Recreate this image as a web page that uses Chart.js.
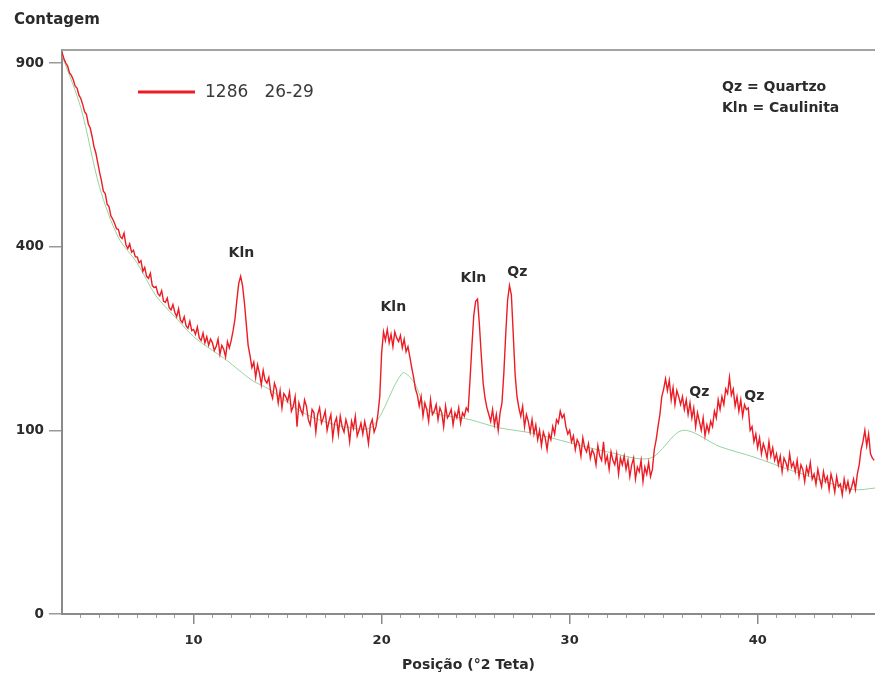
<!DOCTYPE html>
<html>
<head>
<meta charset="utf-8">
<script src="https://cdn.jsdelivr.net/npm/chart.js"></script>
<style>
  html, body { margin: 0; padding: 0; background: #fff; }
  #wrap { width: 875px; height: 682px; }
</style>
</head>
<body>
<div id="wrap"><canvas id="xrd" width="875" height="682"></canvas></div>
<script>
// diffractogram sampled every 0.1 °2θ, starting at 3.0
const startAngle = 3.0;
const stepAngle = 0.1;
const counts1286 = [
    935, 915, 900, 890, 868, 860, 846, 826, 820, 798,
    788, 770, 748, 740, 712, 700, 676, 648, 630, 604,
    578, 556, 530, 524, 498, 492, 470, 462, 452, 440,
    438, 422, 418, 430, 404, 396, 406, 388, 392, 378,
    378, 366, 370, 348, 356, 338, 334, 344, 320, 316,
    318, 304, 300, 310, 290, 288, 296, 278, 274, 284,
    270, 262, 276, 256, 252, 262, 246, 242, 254, 238,
    240, 232, 244, 226, 222, 234, 218, 228, 214, 224,
    218, 206, 212, 224, 200, 214, 208, 196, 220, 210,
    222, 238, 258, 292, 324, 338, 320, 288, 250, 214,
    198, 180, 188, 166, 184, 172, 156, 176, 162, 158,
    166, 146, 138, 158, 150, 132, 148, 126, 144, 140,
    134, 146, 122, 128, 140, 104, 132, 124, 118, 136,
    128, 112, 106, 124, 120, 98, 118, 126, 108, 114,
    122, 100, 110, 118, 92, 108, 114, 96, 116, 104,
    98, 112, 104, 88, 110, 102, 116, 94, 100, 108,
    96, 110, 100, 86, 106, 112, 98, 104, 118, 140,
    202, 236, 222, 240, 218, 232, 212, 236, 226, 220,
    230, 210, 224, 204, 212, 196, 180, 166, 150, 142,
    128, 140, 116, 132, 124, 110, 136, 118, 122, 130,
    112, 126, 120, 104, 128, 114, 118, 124, 106, 120,
    114, 126, 108, 120, 116, 126, 122, 162, 212, 264,
    290, 294, 248, 198, 158, 138, 126, 118, 110, 124,
    106, 118, 100, 120, 132, 172, 232, 292, 320, 302,
    232, 170, 140, 126, 116, 128, 104, 118, 110, 98,
    112, 96, 106, 90, 100, 84, 98, 92, 80, 96,
    90, 104, 96, 112, 108, 122, 114, 118, 104, 96,
    100, 88, 94, 80, 90, 86, 74, 92, 82, 78,
    86, 72, 80, 76, 66, 84, 74, 70, 88, 68,
    74, 62, 78, 70, 66, 76, 58, 72, 66, 74,
    62, 70, 56, 66, 72, 54, 64, 60, 70, 52,
    64, 58, 68, 56, 62, 80, 90, 104, 118, 140,
    150, 164, 148, 162, 136, 152, 130, 148, 140, 130,
    140, 124, 136, 118, 132, 114, 126, 104, 120, 110,
    100, 114, 94, 106, 98, 110, 104, 122, 114, 136,
    124, 140, 130, 150, 144, 166, 142, 150, 128, 140,
    122, 136, 116, 130, 124, 126, 100, 104, 88, 96,
    82, 92, 76, 86, 80, 72, 88, 74, 82, 70,
    76, 66, 74, 60, 72, 68, 62, 76, 64, 68,
    60, 70, 56, 66, 62, 52, 64, 58, 68, 54,
    58, 50, 62, 54, 48, 60, 52, 56, 46, 58,
    52, 44, 56, 48, 50, 42, 54, 46, 52, 44,
    48, 54, 46, 58, 66, 80, 88, 100, 84, 96,
    76, 72, 70
];

// fitted background (green)
const baseAngles = [3, 4, 5, 6, 7, 8, 9, 10, 11, 11.75, 13.1, 14, 16, 18, 19.5, 21.1, 21.7, 22.5, 24.7, 26.2, 28, 30, 32, 34.3, 36, 38, 39.8, 42, 45.1, 46.24];
const baseCounts = [925, 760, 540, 420, 365, 300, 262, 228, 206, 191, 162, 150, 118, 104, 104, 172, 160, 123, 112, 103, 97, 87, 78, 72, 100, 83, 73, 60, 46, 47];

const seriesName = '1286   26-29';

const peakNames = ['Kln', 'Kln', 'Kln', 'Qz', 'Qz', 'Qz'];
const peakAngles = [12.54, 20.62, 24.88, 27.22, 36.9, 39.82];
const peakCounts = [386, 279, 333, 347, 145, 141];

const keyLines = ['Qz = Quartzo', 'Kln = Caulinita'];

const yTickValues = [0, 100, 400, 900];
const xTickValues = [10, 20, 30, 40];

const textColor = '#2b2b2b';
const axisColor = '#8a8a8a';
const boldFont = '"DejaVu Sans", Verdana, sans-serif';

// square-root intensity axis
class SqrtScale extends Chart.LinearScale {
    getPixelForValue(value) {
        const lo = Math.sqrt(this.min);
        const hi = Math.sqrt(this.max);
        return this.getPixelForDecimal((Math.sqrt(Math.max(value, 0)) - lo) / (hi - lo));
    }
    getValueForPixel(pixel) {
        const lo = Math.sqrt(this.min);
        const hi = Math.sqrt(this.max);
        const s = lo + this.getDecimalForPixel(pixel) * (hi - lo);
        return s * s;
    }
}
SqrtScale.id = 'sqrt';
SqrtScale.defaults = Chart.LinearScale.defaults;
Chart.register(SqrtScale);

const decorations = {
    id: 'decorations',
    afterDraw(chart) {
        const { ctx, chartArea, scales } = chart;
        ctx.save();

        // top frame line
        ctx.strokeStyle = '#a3a3a3';
        ctx.lineWidth = 2;
        ctx.beginPath();
        ctx.moveTo(chartArea.left, chartArea.top);
        ctx.lineTo(chartArea.right, chartArea.top);
        ctx.stroke();

        ctx.fillStyle = textColor;
        ctx.textBaseline = 'middle';

        ctx.font = `bold 15px ${boldFont}`;
        ctx.textAlign = 'left';
        ctx.fillText('Contagem', 14, 20);

        // legend
        const red = chart.data.datasets[0].borderColor;
        ctx.strokeStyle = red;
        ctx.lineWidth = 3;
        ctx.beginPath();
        ctx.moveTo(chartArea.left + 76, 92);
        ctx.lineTo(chartArea.left + 133, 92);
        ctx.stroke();
        ctx.fillStyle = '#3a3a3a';
        ctx.font = `17px ${boldFont}`;
        ctx.fillText(chart.data.datasets[0].label, chartArea.left + 143, 93);

        // abbreviation key
        ctx.fillStyle = textColor;
        ctx.font = `bold 14px ${boldFont}`;
        keyLines.forEach((line, i) => {
            ctx.fillText(line, 722, 87 + i * 21);
        });

        // peak labels
        ctx.textAlign = 'center';
        peakNames.forEach((name, i) => {
            const px = scales.x.getPixelForValue(peakAngles[i]);
            const py = scales.y.getPixelForValue(peakCounts[i]);
            ctx.fillText(name, px, py);
        });
        ctx.restore();
    }
};

const points = counts1286.map((c, i) => ({ x: +(startAngle + i * stepAngle).toFixed(1), y: c }));
const basePoints = baseAngles.map((a, i) => ({ x: a, y: baseCounts[i] }));

new Chart(document.getElementById('xrd').getContext('2d'), {
    type: 'line',
    data: {
        datasets: [{
            label: seriesName,
            data: points,
            borderColor: '#ec1c24',
            borderWidth: 1.4,
            pointRadius: 0,
            tension: 0
        }, {
            label: 'fundo',
            data: basePoints,
            borderColor: '#97d39f',
            borderWidth: 1,
            pointRadius: 0,
            tension: 0.3
        }]
    },
    options: {
        responsive: false,
        animation: false,
        layout: { padding: { top: 50, left: 0, right: 0, bottom: 0 } },
        plugins: {
            legend: { display: false },
            tooltip: { enabled: false }
        },
        scales: {
            xMinor: {
                type: 'linear',
                position: 'bottom',
                weight: 0,
                min: 3,
                max: 46.24,
                afterBuildTicks: scale => {
                    scale.ticks = scale.ticks.filter(t => Number.isInteger(t.value) && t.value > 3);
                },
                afterFit: scale => { scale.height = 0; },
                ticks: { display: false, stepSize: 1, maxTicksLimit: 100, autoSkip: false },
                grid: { display: true, drawOnChartArea: false, drawTicks: true, tickLength: 4, color: axisColor, tickColor: '#9a9a9a', lineWidth: 1 },
                border: { display: false }
            },
            x: {
                type: 'linear',
                position: 'bottom',
                weight: 1,
                min: 3,
                max: 46.24,
                afterBuildTicks: scale => {
                    scale.ticks = xTickValues.map(v => ({ value: v }));
                },
                afterFit: scale => { scale.height = 68; },
                ticks: {
                    color: textColor,
                    padding: 9,
                    font: { family: boldFont, size: 13, weight: 'bold' },
                    maxRotation: 0
                },
                grid: { display: true, drawOnChartArea: false, tickLength: 10, tickColor: '#8a8a8a', lineWidth: 1.5 },
                border: { display: true, color: axisColor, width: 2 },
                title: {
                    display: true,
                    text: 'Posição (°2 Teta)',
                    color: textColor,
                    font: { family: boldFont, size: 14, weight: 'bold' },
                    padding: { top: 0, bottom: 8 }
                }
            },
            y: {
                type: 'sqrt',
                position: 'left',
                min: 0,
                max: 943,
                afterBuildTicks: scale => {
                    scale.ticks = yTickValues.map(v => ({ value: v }));
                },
                afterFit: scale => { scale.width = 62; },
                ticks: {
                    color: textColor,
                    padding: 5,
                    font: { family: boldFont, size: 13.5, weight: 'bold' }
                },
                grid: { display: true, drawOnChartArea: false, tickLength: 13, tickColor: '#9a9a9a', lineWidth: 1.5 },
                border: { display: true, color: axisColor, width: 2 }
            }
        }
    },
    plugins: [decorations]
});
</script>
</body>
</html>
